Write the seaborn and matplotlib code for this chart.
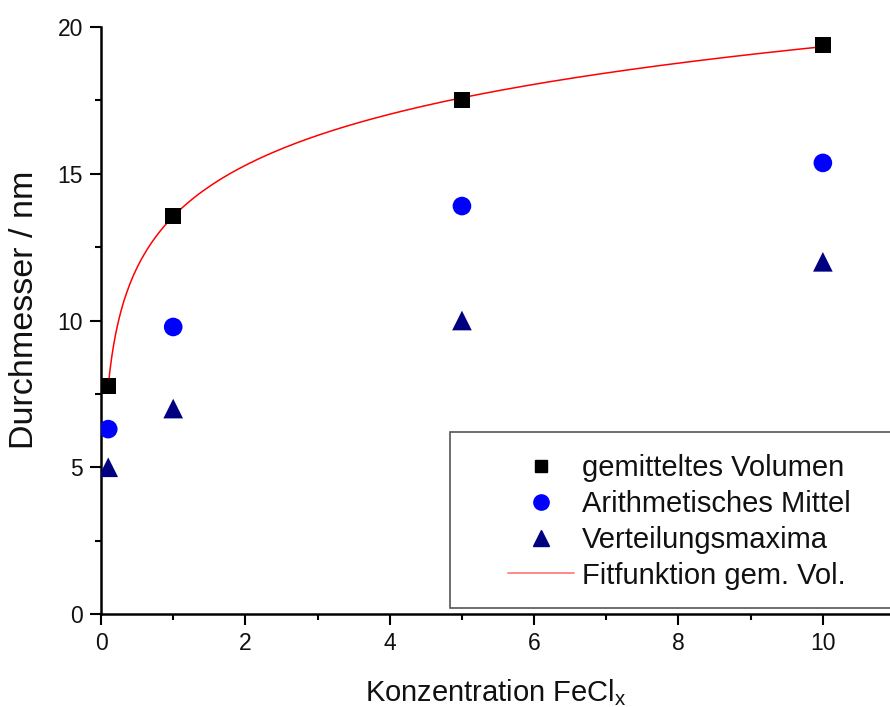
import numpy as np
import pandas as pd
import matplotlib
matplotlib.use("Agg")
import matplotlib.pyplot as plt
import matplotlib.patches as mpatches
from matplotlib.lines import Line2D
from matplotlib.ticker import MultipleLocator
import seaborn as sns

# Konzentration FeCl_x and measured particle diameters (nm)
konzentration = [0.1, 1, 5, 10]
gem_volumen = [7.77, 13.56, 17.51, 19.39]
arith_mittel = [6.30, 9.78, 13.90, 15.37]
vert_maxima = [5.0, 7.0, 10.0, 12.0]

x_ticks = [0, 2, 4, 6, 8, 10]
y_ticks = [0, 5, 10, 15, 20]

sns.set_theme(style="ticks")
plt.rcParams["font.family"] = ["Liberation Sans", "DejaVu Sans"]
plt.rcParams["mathtext.fontset"] = "custom"
plt.rcParams["mathtext.rm"] = "Liberation Sans"

TXT = "#111111"

fig = plt.figure(figsize=(8.9, 7.07), dpi=100)
ax = fig.add_axes([0.1135, 0.1315, 0.8865, 0.8303])

df = pd.DataFrame({"c": konzentration, "vol": gem_volumen,
                   "arith": arith_mittel, "max": vert_maxima})

# logarithmic fit of the volume-weighted mean: y = a + b*ln(c)
b, a = np.polyfit(np.log(df["c"]), df["vol"], 1)
c_fit = np.linspace(min(konzentration), max(konzentration), 400)
fit = pd.DataFrame({"c": c_fit, "y": a + b * np.log(c_fit)})

sns.lineplot(data=fit, x="c", y="y", ax=ax, color="#ff0000", lw=1.1,
             legend=False, zorder=2)
sns.scatterplot(data=df, x="c", y="vol", ax=ax, marker="s", s=140,
                color="black", edgecolor="none", zorder=3, legend=False)
sns.scatterplot(data=df, x="c", y="arith", ax=ax, marker="o", s=180,
                color="#0000ff", edgecolor="none", zorder=3, legend=False)
sns.scatterplot(data=df, x="c", y="max", ax=ax, marker="^", s=200,
                color="#000080", edgecolor="none", zorder=3, legend=False)

ax.set_xlim(0, 10.93)
ax.set_ylim(0, 20)
ax.set_xticks(x_ticks)
ax.set_yticks(y_ticks)
ax.xaxis.set_minor_locator(MultipleLocator(1))
ax.yaxis.set_minor_locator(MultipleLocator(2.5))
ax.tick_params(which="major", direction="out", length=8, width=1.5,
               labelsize=16.5, color="black", labelcolor=TXT, pad=5)
ax.tick_params(which="minor", direction="out", length=4.5, width=1.5, color="black")
for side in ("top", "right"):
    ax.spines[side].set_visible(False)
for side in ("left", "bottom"):
    ax.spines[side].set_linewidth(1.8)
    ax.spines[side].set_color("black")

ax.set_xlabel("Konzentration FeCl$_\\mathregular{x}$", fontsize=21, labelpad=16,
              color=TXT)
ax.set_ylabel("Durchmesser / nm", fontsize=24.5, color=TXT, va="center")
ax.yaxis.set_label_coords(-0.0976, 0.518)

# legend frame, running off the right edge of the figure
frame = mpatches.Rectangle((450 / 890, 1 - 608 / 707), 0.6, 176 / 707,
                           transform=fig.transFigure, facecolor="white",
                           edgecolor="#555555", lw=1.2, zorder=4)
fig.patches.append(frame)

handles = [
    Line2D([], [], ls="none", marker="s", ms=9, color="black"),
    Line2D([], [], ls="none", marker="o", ms=11, color="#0000ff"),
    Line2D([], [], ls="none", marker="^", ms=12, color="#000080"),
    Line2D([], [], color="#ff8080", lw=1.3),
]
labels = ["gemitteltes Volumen", "Arithmetisches Mittel",
          "Verteilungsmaxima", "Fitfunktion gem. Vol."]
leg = fig.legend(handles, labels, loc="upper left",
                 bbox_to_anchor=(508 / 890, 1 - 454 / 707),
                 fontsize=21, frameon=False, handlelength=2.25,
                 handletextpad=0.28, labelspacing=0.27, borderpad=0,
                 borderaxespad=0)
for t in leg.get_texts():
    t.set_color(TXT)
leg.set_zorder(5)

fig.savefig("out.png", dpi=100)
